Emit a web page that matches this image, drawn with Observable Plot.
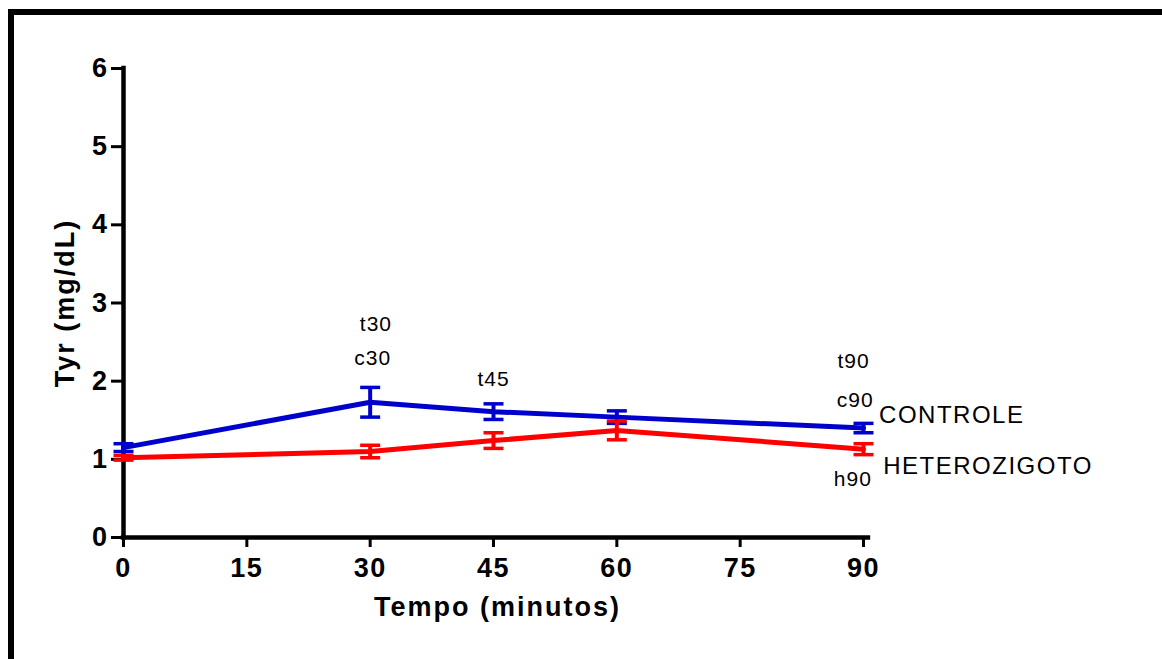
<!DOCTYPE html>
<html>
<head>
<meta charset="utf-8">
<script src="https://cdn.jsdelivr.net/npm/d3@7"></script>
<script src="https://cdn.jsdelivr.net/npm/@observablehq/plot@0.6"></script>
<style>
  html, body { margin: 0; padding: 0; background: #fff; }
  #chart { width: 1162px; height: 659px; overflow: hidden; }
</style>
</head>
<body>
<div id="chart"></div>
<script>
// ---- data ----
const times = [0, 30, 45, 60, 90];
const controleMean = [1.15, 1.73, 1.61, 1.54, 1.40];
const controleErr  = [0.05, 0.19, 0.10, 0.08, 0.06];
const heteroMean   = [1.02, 1.10, 1.24, 1.37, 1.13];
const heteroErr    = [0.03, 0.08, 0.10, 0.12, 0.07];

const seriesNames  = ["CONTROLE", "HETEROZIGOTO"];
const seriesColors = ["#0000cc", "#ff0000"];
const seriesLabelX = [91.9, 92.4];
const seriesLabelY = [1.56, 0.91];

const noteText = ["t30", "c30", "t45", "t90", "c90", "h90"];
const noteX    = [30.7, 30.3, 45.0, 88.8, 89.0, 88.7];
const noteY    = [2.73, 2.29, 2.03, 2.26, 1.75, 0.75];

const xTicks = [0, 15, 30, 45, 60, 75, 90];
const yTicks = [0, 1, 2, 3, 4, 5, 6];
const xTitle = "Tempo (minutos)";
const yTitle = "Tyr (mg/dL)";

// ---- build tables ----
const controle = times.map((t, i) => ({x: t, y: controleMean[i], e: controleErr[i]}));
const hetero   = times.map((t, i) => ({x: t, y: heteroMean[i], e: heteroErr[i]}));
const seriesLabels = seriesNames.map((n, i) => ({text: n, x: seriesLabelX[i], y: seriesLabelY[i]}));
const notes = noteText.map((t, i) => ({text: t, x: noteX[i], y: noteY[i]}));

const capSymbol = { draw(ctx) { ctx.moveTo(-10, 0); ctx.lineTo(10, 0); } };

function seriesMarks(data, color) {
  return [
    Plot.line(data, {x: "x", y: "y", stroke: color, strokeWidth: 5}),
    Plot.ruleX(data, {x: "x", y1: d => d.y - d.e, y2: d => d.y + d.e, stroke: color, strokeWidth: 4}),
    Plot.dot(data, {x: "x", y: d => d.y + d.e, symbol: capSymbol, r: 5, fill: "none", stroke: color, strokeWidth: 3.5}),
    Plot.dot(data, {x: "x", y: d => d.y - d.e, symbol: capSymbol, r: 5, fill: "none", stroke: color, strokeWidth: 3.5})
  ];
}

const fontFamily = "'Liberation Sans', Arial, Helvetica, sans-serif";

const chart = Plot.plot({
  width: 1162,
  height: 659,
  marginLeft: 123,
  marginRight: 299,
  marginTop: 68,
  marginBottom: 122,
  style: {fontFamily, background: "white", color: "black", overflow: "visible"},
  x: {domain: [0, 90]},
  y: {domain: [0, 6]},
  marks: [
    Plot.axisX({ticks: xTicks, tickSize: 10, tickPadding: 10, fontSize: 25, fontWeight: "bold", strokeWidth: 3, label: null, tickFormat: d => String(d)}),
    Plot.axisY({ticks: yTicks, tickSize: 12, tickPadding: 3, fontSize: 25, fontWeight: "bold", strokeWidth: 3, label: null, tickFormat: d => String(d)}),
    Plot.ruleY([0], {x1: 0, x2: 90.6, strokeWidth: 4.5, strokeLinecap: "square"}),
    Plot.ruleX([0], {y1: 0, y2: 6, strokeWidth: 4.5, strokeLinecap: "square"}),
    ...seriesMarks(controle, seriesColors[0]),
    ...seriesMarks(hetero, seriesColors[1]),
    Plot.text(notes, {x: "x", y: "y", text: "text", fontSize: 21, textAnchor: "middle", fill: "black"}),
    Plot.text(seriesLabels, {x: "x", y: "y", text: "text", fontSize: 24, textAnchor: "start", fill: "black"}),
    Plot.text([xTitle], {frameAnchor: "bottom", dy: 78, dx: 4, textAnchor: "middle", fontSize: 27, fontWeight: "bold", fill: "black"}),
    Plot.text([yTitle], {frameAnchor: "left", dx: -58, rotate: -90, textAnchor: "middle", fontSize: 27, fontWeight: "bold", fill: "black"})
  ]
});

// outer frame (top and left borders)
d3.select(chart).append("path")
  .attr("d", "M11,659V12H1162")
  .attr("fill", "none")
  .attr("stroke", "black")
  .attr("stroke-width", 6);

document.getElementById("chart").appendChild(chart);

// style text to mimic the wider lettering of the original
d3.select(chart).selectAll("text").each(function() {
  const s = this.textContent;
  const sel = d3.select(this);
  if (/^\d+$/.test(s)) {
    sel.style("font-size", "27px").style("font-weight", "bold").style("letter-spacing", "1.5px");
  } else if (s === xTitle || s === yTitle) {
    sel.style("letter-spacing", "2px");
  } else if (seriesNames.includes(s)) {
    sel.style("letter-spacing", "1.5px");
  } else if (noteText.includes(s)) {
    sel.style("letter-spacing", "1px");
  }
});
</script>
</body>
</html>
